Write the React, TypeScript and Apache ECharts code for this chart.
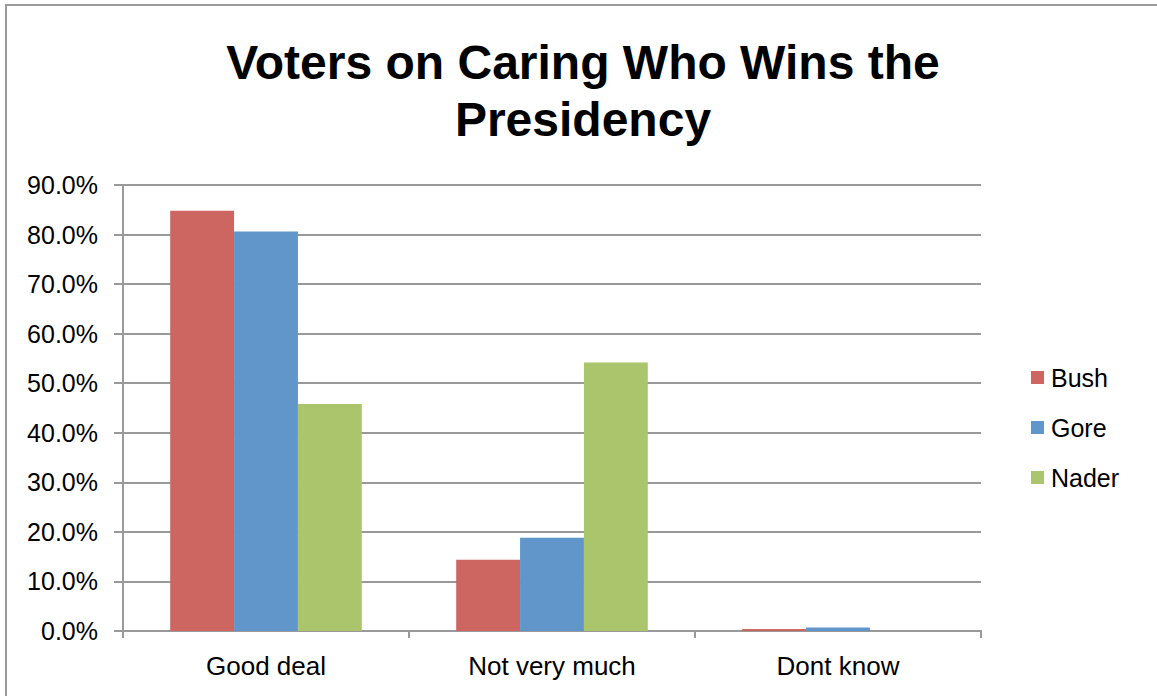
import React, { useEffect, useRef } from "react";
import * as echarts from "echarts";

const categories = ["Good deal", "Not very much", "Dont know"];
const seriesNames = ["Bush", "Gore", "Nader"];
const bushValues = [84.8, 14.4, 0.4];
const goreValues = [80.6, 18.8, 0.7];
const naderValues = [45.8, 54.2, 0];
const seriesColors = ["#cd6560", "#6096c9", "#abc56d"];
const yTicks = { min: 0, max: 90, interval: 10 };
const titleText = "Voters on Caring Who Wins the\nPresidency";

const FONT = "'Liberation Sans', Arial, Helvetica, sans-serif";

export default function App() {
  const ref = useRef<HTMLDivElement>(null);
  useEffect(() => {
    if (!ref.current) return;
    const chart = echarts.init(ref.current, null, { renderer: "svg" });
    const values = [bushValues, goreValues, naderValues];
    chart.setOption({
      animation: false,
      backgroundColor: "#ffffff",
      textStyle: { fontFamily: FONT },
      title: {
        text: titleText,
        left: 578,
        top: 29,
        textAlign: "center",
        textStyle: {
          fontFamily: FONT,
          fontSize: 48,
          fontWeight: "bold",
          color: "#000",
          lineHeight: 57,
        },
      },
      graphic: [
        {
          type: "rect",
          shape: { x: 6, y: 5, width: 1200, height: 760 },
          style: { fill: "none", stroke: "#9a9a9a", lineWidth: 2 },
          silent: true,
        },
      ],
      legend: {
        orient: "vertical",
        left: 1026,
        top: 360,
        itemWidth: 13,
        itemHeight: 13,
        itemGap: 25,
        icon: "rect",
        textStyle: { fontFamily: FONT, fontSize: 25, color: "#000", padding: [0, 0, 0, 2] },
        data: seriesNames,
      },
      grid: { left: 123, right: 176, top: 185, bottom: 65, containLabel: false },
      xAxis: {
        type: "category",
        data: categories,
        axisLine: { lineStyle: { color: "#999", width: 2 } },
        axisTick: { show: true, length: 7, lineStyle: { color: "#999", width: 2 } },
        axisLabel: { color: "#000", fontSize: 26, fontFamily: FONT, margin: 22 },
      },
      yAxis: {
        type: "value",
        min: yTicks.min,
        max: yTicks.max,
        interval: yTicks.interval,
        axisLine: { show: true, lineStyle: { color: "#999", width: 2 } },
        axisTick: { show: true, length: 9, lineStyle: { color: "#999", width: 2 } },
        splitLine: { show: true, lineStyle: { color: "#999", width: 2 } },
        axisLabel: {
          color: "#000",
          fontSize: 25,
          fontFamily: FONT,
          margin: 25,
          formatter: (v: number) => v.toFixed(1) + "%",
        },
      },
      series: seriesNames.map((name, i) => ({
        name,
        type: "bar",
        data: values[i],
        itemStyle: { color: seriesColors[i] },
        barGap: "0%",
        barCategoryGap: "33%",
      })),
    });
    return () => chart.dispose();
  }, []);
  return (
    <div
      ref={ref}
      style={{ position: "fixed", left: 0, top: 0, width: 1157, height: 696 }}
    />
  );
}
